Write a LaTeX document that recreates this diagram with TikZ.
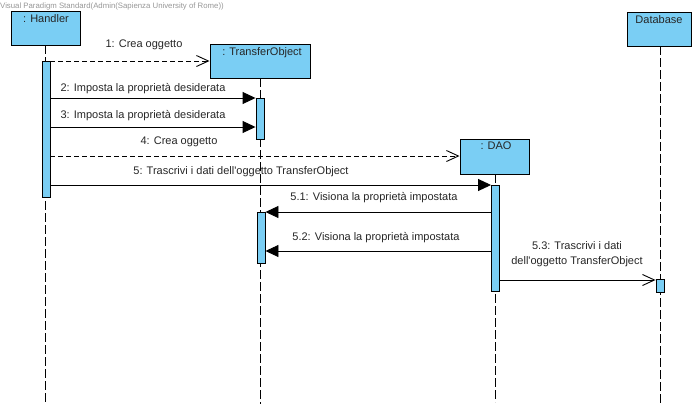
\documentclass[tikz,border=0pt]{standalone}
\usepackage{fontspec}
\setmainfont{Liberation Sans}
\usetikzlibrary{arrows.meta}
\definecolor{objfill}{RGB}{122,206,244}
\definecolor{markgray}{RGB}{150,150,150}

\tikzset{
  objbox/.style={draw=black, fill=objfill, line width=1pt, inner sep=0pt},
  objname/.style={anchor=north, inner sep=0pt, font=\fontsize{11}{13}\selectfont, text=black!85},
  actbar/.style={draw=black, fill=objfill, line width=0.9pt, inner sep=0pt, minimum width=8pt},
  lifeline/.style={draw=black, line width=0.8pt, dash pattern=on 9pt off 3pt},
  callmsg/.style={draw=black, line width=0.9pt, -{Triangle[length=13pt,width=12pt]}},
  createmsg/.style={draw=black, line width=0.9pt, dash pattern=on 5pt off 3pt, -{Straight Barb[length=12pt,width=11pt,line width=0.9pt]}},
  plainmsg/.style={draw=black, line width=0.9pt, -{Straight Barb[length=12pt,width=11pt,line width=0.9pt]}},
  msglabel/.style={inner sep=0pt, font=\fontsize{11}{15}\selectfont, text=black!85, align=center}
}

\begin{document}
\begin{tikzpicture}[x=1pt, y=-1pt]
\useasboundingbox (0,0) rectangle (699,410);

% tool watermark
\node[anchor=west, inner sep=0pt, font=\fontsize{7.8}{9}\selectfont, text=markgray] (mark) at (0,6) {Visual Paradigm Standard(Admin(Sapienza University of Rome))};

% objects
\node[objbox, minimum width=69pt, minimum height=34pt] (handler) at (46,28) {};
\node[objname] (handlerT) at (46,14) {: Handler};
\node[objbox, minimum width=100pt, minimum height=34pt] (to) at (260,61) {};
\node[objname] (toT) at (262,47) {: TransferObject};
\node[objbox, minimum width=69pt, minimum height=35pt] (dao) at (494.5,156.5) {};
\node[objname] (daoT) at (496,142) {: DAO};
\node[objbox, minimum width=64pt, minimum height=34pt] (db) at (659,29) {};
\node[objname] (dbT) at (659,15) {Database};

% lifelines
\coordinate (handlerEnd) at (45,404);
\coordinate (toEnd) at (260,404);
\coordinate (daoEnd) at (495,402);
\coordinate (dbEnd) at (660,404);
\draw[lifeline] (45,45) -- (handlerEnd);
\draw[lifeline] (260,78) -- (toEnd);
\draw[lifeline] (495,174) -- (daoEnd);
\draw[lifeline] (660,46) -- (dbEnd);

% activation bars
\node[actbar, minimum height=136pt] (hbar) at (46,129) {};
\node[actbar, minimum height=41pt] (tobarA) at (260,118.5) {};
\node[actbar, minimum height=106pt] (daobar) at (495.5,238) {};
\node[actbar, minimum height=51pt] (tobarB) at (261,237.5) {};
\node[actbar, minimum height=13pt] (dbbar) at (660,285.5) {};

% message rows
\coordinate (r1) at (0,61);
\coordinate (r2) at (0,98);
\coordinate (r3) at (0,127);
\coordinate (r4) at (0,156);
\coordinate (r5) at (0,185);
\coordinate (r51) at (0,212);
\coordinate (r52) at (0,251);
\coordinate (r53) at (0,280);

% messages
\draw[createmsg] (hbar.east |- r1) -- (to.west |- r1);
\draw[callmsg] (hbar.east |- r2) -- (tobarA.west |- r2);
\draw[callmsg] (hbar.east |- r3) -- (tobarA.west |- r3);
\draw[createmsg] (hbar.east |- r4) -- (dao.west |- r4);
\draw[callmsg] (hbar.east |- r5) -- (daobar.west |- r5);
\draw[callmsg] (daobar.west |- r51) -- (tobarB.east |- r51);
\draw[callmsg] (daobar.west |- r52) -- (tobarB.east |- r52);
\draw[plainmsg] (daobar.east |- r53) -- (dbbar.west |- r53);

% message labels
\node[msglabel] (l1) at (144,45) {1: Crea oggetto};
\node[msglabel] (l2) at (143,89) {2: Imposta la proprietà desiderata};
\node[msglabel] (l3) at (143,116) {3: Imposta la proprietà desiderata};
\node[msglabel] (l4) at (179,142) {4: Crea oggetto};
\node[msglabel] (l5) at (241,172) {5: Trascrivi i dati dell\textquotesingle oggetto TransferObject};
\node[msglabel] (l51) at (374,198) {5.1: Visiona la proprietà impostata};
\node[msglabel] (l52) at (376,238) {5.2: Visiona la proprietà impostata};
\node[msglabel] (l53) at (577,254.5) {5.3: Trascrivi i dati\\dell\textquotesingle oggetto TransferObject};
\end{tikzpicture}
\end{document}
